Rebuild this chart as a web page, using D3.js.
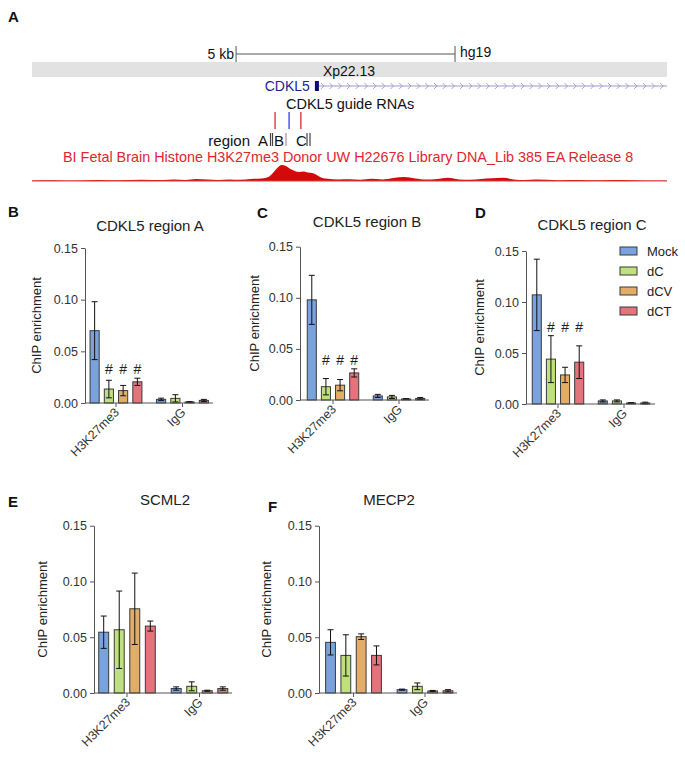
<!DOCTYPE html>
<html>
<head>
<meta charset="utf-8">
<script src="https://cdn.jsdelivr.net/npm/d3@7"></script>
<style>
  body { margin: 0; background: #fff; }
  svg { font-family: "Liberation Sans", Arial, sans-serif; }
</style>
</head>
<body>
<script>
// ---- data ----
var series = ["Mock", "dC", "dCV", "dCT"];
var groups = ["H3K27me3", "IgG"];
var colors = ["#7aa2dc", "#bfe07e", "#e2ad68", "#e5737c"];
var yTicks = [0, 0.05, 0.10, 0.15];

// CDKL5 region A
var regionAMean = [[0.070, 0.0135, 0.012, 0.0205], [0.0035, 0.0045, 0.001, 0.0025]];
var regionAErr  = [[0.028, 0.0085, 0.005, 0.0035], [0.0012, 0.0035, 0.0003, 0.001]];
// CDKL5 region B
var regionBMean = [[0.098, 0.013, 0.0145, 0.0265], [0.004, 0.003, 0.001, 0.0015]];
var regionBErr  = [[0.024, 0.008, 0.0055, 0.004], [0.0015, 0.0015, 0.0003, 0.001]];
// CDKL5 region C
var regionCMean = [[0.107, 0.044, 0.0285, 0.041], [0.003, 0.003, 0.001, 0.001]];
var regionCErr  = [[0.035, 0.023, 0.0075, 0.016], [0.001, 0.001, 0.0003, 0.0008]];
// SCML2
var scml2Mean = [[0.0545, 0.0567, 0.0755, 0.060], [0.004, 0.006, 0.002, 0.004]];
var scml2Err  = [[0.0145, 0.0347, 0.032, 0.0045], [0.0015, 0.004, 0.0005, 0.0015]];
// MECP2
var mecp2Mean = [[0.0454, 0.0337, 0.0505, 0.0337], [0.003, 0.006, 0.0018, 0.002]];
var mecp2Err  = [[0.0113, 0.0185, 0.0025, 0.0085], [0.0005, 0.003, 0.0005, 0.001]];

// genome browser track (kb positions across the window, H3K27me3 signal)
var signalKb = [0, 0.5, 1, 1.5, 2, 2.5, 3, 3.25, 3.5, 3.75, 4, 4.25, 4.5, 4.75, 5, 5.25, 5.4, 5.5, 5.6, 5.7, 5.8, 5.9, 6.0, 6.1, 6.2, 6.3, 6.4, 6.5, 6.6, 6.75, 7, 7.25, 7.5, 7.75, 8, 8.25, 8.5, 8.75, 9, 9.25, 9.5, 9.75, 10, 10.25, 10.5, 10.75, 11, 11.25, 11.5, 12, 12.5, 13, 13.5, 14, 14.5];
var signalVal = [0.6, 0.8, 0.5, 1.0, 0.7, 1.2, 0.9, 1.5, 1.0, 2.0, 1.4, 1.0, 1.6, 1.2, 2.0, 2.6, 4, 8, 13, 16, 15, 12, 10, 9, 9.5, 8.5, 8, 6, 3.5, 2.2, 1.6, 1.8, 1.2, 2.2, 1.5, 3.0, 4.0, 2.5, 1.4, 2.0, 3.2, 1.6, 1.2, 2.0, 2.8, 3.2, 1.6, 1.0, 1.4, 0.8, 1.0, 0.7, 0.9, 0.6, 0.5];
var guideKb = [5.55, 5.87, 6.14];
var guideColor = ["#e0262e", "#3b3be8", "#e0262e"];

var width = 685, height = 763;

var svg = d3.select("body").append("svg")
  .attr("width", width)
  .attr("height", height);

svg.append("rect").attr("width", width).attr("height", height).attr("fill", "#fff");

function panelLetter(t, x, y){
  svg.append("text").attr("x", x).attr("y", y)
    .attr("font-size", "15px").attr("font-weight", "bold")
    .attr("fill", "#111").text(t);
}

// ---- panel A: browser view ----
function drawBrowser(){
  var x = d3.scaleLinear().domain([0, 14.5]).range([32, 667]);
  var g = svg.append("g");

  // scale bar
  var s0 = x(4.66), s1 = x(9.66);
  g.append("line").attr("x1", s0).attr("x2", s1).attr("y1", 54).attr("y2", 54)
    .attr("stroke", "#555").attr("stroke-width", 1);
  [s0, s1].forEach(function(v){
    g.append("line").attr("x1", v).attr("x2", v).attr("y1", 46).attr("y2", 62)
      .attr("stroke", "#555").attr("stroke-width", 1);
  });
  g.append("text").attr("x", s0 - 2).attr("y", 59).attr("text-anchor", "end")
    .attr("font-size", "14px").attr("fill", "#111").text("5 kb");
  g.append("text").attr("x", s1 + 5).attr("y", 57)
    .attr("font-size", "14px").attr("fill", "#111").text("hg19");

  // cytoband
  g.append("rect").attr("x", x(0)).attr("y", 62).attr("width", x(14.5) - x(0)).attr("height", 15)
    .attr("fill", "#e2e2e2");
  g.append("text").attr("x", 349).attr("y", 75.5).attr("text-anchor", "middle")
    .attr("font-size", "14px").attr("fill", "#111").text("Xp22.13");

  // gene
  var gs = x(6.46);
  g.append("text").attr("x", gs - 5).attr("y", 91).attr("text-anchor", "end")
    .attr("font-size", "14px").attr("fill", "#1f1f8f").text("CDKL5");
  g.append("line").attr("x1", gs).attr("x2", x(14.5)).attr("y1", 86).attr("y2", 86)
    .attr("stroke", "#9a9ad0").attr("stroke-width", 1);
  var chev = d3.range(gs + 8, x(14.5) - 2, 8.7);
  g.selectAll("path.chev").data(chev).enter().append("path")
    .attr("class", "chev")
    .attr("d", function(d){ return "M" + (d - 2) + ",83 L" + (d + 1) + ",86 L" + (d - 2) + ",89"; })
    .attr("fill", "none").attr("stroke", "#9a9ad0").attr("stroke-width", 0.9);
  g.append("rect").attr("x", gs).attr("y", 81).attr("width", 4).attr("height", 10)
    .attr("fill", "#0c0c70");

  // guide RNAs
  g.append("text").attr("x", 286).attr("y", 109)
    .attr("font-size", "14.5px").attr("fill", "#111").text("CDKL5 guide RNAs");
  g.selectAll("line.guide").data(guideKb).enter().append("line")
    .attr("class", "guide")
    .attr("x1", function(d){ return x(d); }).attr("x2", function(d){ return x(d); })
    .attr("y1", 112).attr("y2", 129)
    .attr("stroke", function(d, i){ return guideColor[i]; }).attr("stroke-width", 1.3);

  // regions
  g.append("text").attr("x", 250).attr("y", 145.5).attr("text-anchor", "end")
    .attr("font-size", "15px").attr("fill", "#111").text("region");
  var regLab = [{t: "A", x: 258}, {t: "B", x: 274}, {t: "C", x: 296}];
  regLab.forEach(function(r){
    g.append("text").attr("x", r.x).attr("y", 145.5)
      .attr("font-size", "15px").attr("fill", "#111").text(r.t);
  });
  [270.5, 272.5, 286, 307, 310].forEach(function(v, i){
    g.append("rect").attr("x", v - 0.6).attr("y", 133).attr("width", 1.2).attr("height", 13)
      .attr("fill", i == 2 ? "#999" : "#444");
  });

  // track title
  g.append("text").attr("x", 63).attr("y", 161.5)
    .attr("font-size", "14.4px").attr("fill", "#e0262e")
    .text("BI Fetal Brain Histone H3K27me3 Donor UW H22676 Library DNA_Lib 385 EA Release 8");

  // signal
  var pts = signalKb.map(function(k, i){ return [k, signalVal[i]]; });
  var area = d3.area()
    .x(function(d){ return x(d[0]); })
    .y0(181)
    .y1(function(d){ return 181 - d[1]; })
    .curve(d3.curveMonotoneX);
  g.append("path").datum(pts).attr("d", area).attr("fill", "#d40a0a");
  g.append("line").attr("x1", x(0)).attr("x2", x(14.5)).attr("y1", 181).attr("y2", 181)
    .attr("stroke", "#d84040").attr("stroke-width", 1);
}

// ---- bar panels ----
function drawBars(p){
  var g = svg.append("g");
  var y = d3.scaleLinear().domain([0, 0.15]).range([p.y0, p.y1]);
  var gx = d3.scaleBand().domain(groups)
    .range([p.x0 + p.off - p.step / 2, p.x0 + p.off + p.step * 1.5])
    .paddingInner(0.22).paddingOuter(0.11);
  var bx = d3.scaleBand().domain(series).range([0, gx.bandwidth()]).paddingInner(0.36);

  var rows = [];
  groups.forEach(function(gr, gi){
    series.forEach(function(s, si){
      rows.push({group: gr, s: s, si: si, v: p.mean[gi][si], e: p.err[gi][si]});
    });
  });

  // y axis
  var yAxis = d3.axisLeft(y).tickValues(yTicks).tickFormat(d3.format(".2f")).tickSize(4).tickSizeOuter(0);
  var ya = g.append("g").attr("transform", "translate(" + p.x0 + ",0)").call(yAxis);
  ya.select(".domain").attr("stroke", "#555");
  ya.selectAll(".tick line").attr("stroke", "#555");
  ya.selectAll(".tick text").attr("font-size", "12.5px").attr("fill", "#333")
    .attr("font-family", "Liberation Sans, Arial, sans-serif");

  // bars
  g.selectAll("rect.bar").data(rows).enter().append("rect")
    .attr("class", "bar")
    .attr("x", function(d){ return gx(d.group) + bx(d.s); })
    .attr("y", function(d){ return y(d.v); })
    .attr("width", bx.bandwidth())
    .attr("height", function(d){ return y(0) - y(d.v); })
    .attr("fill", function(d){ return colors[d.si]; })
    .attr("stroke", "#3a3a3a").attr("stroke-width", 1);

  // error bars
  var cx = function(d){ return gx(d.group) + bx(d.s) + bx.bandwidth() / 2; };
  var eb = g.selectAll("g.err").data(rows).enter().append("g").attr("class", "err");
  eb.append("line")
    .attr("x1", cx).attr("x2", cx)
    .attr("y1", function(d){ return y(d.v + d.e); })
    .attr("y2", function(d){ return y(Math.max(0, d.v - d.e)); })
    .attr("stroke", "#111").attr("stroke-width", 1);
  [1, -1].forEach(function(sg){
    eb.append("line")
      .attr("x1", function(d){ return cx(d) - 3; }).attr("x2", function(d){ return cx(d) + 3; })
      .attr("y1", function(d){ return y(Math.max(0, d.v + sg * d.e)); })
      .attr("y2", function(d){ return y(Math.max(0, d.v + sg * d.e)); })
      .attr("stroke", "#111").attr("stroke-width", 1);
  });

  // x axis
  g.append("line").attr("x1", p.x0).attr("x2", p.x0 + p.len)
    .attr("y1", y(0)).attr("y2", y(0)).attr("stroke", "#555").attr("stroke-width", 1);
  groups.forEach(function(gr){
    var c = gx(gr) + gx.bandwidth() / 2;
    g.append("line").attr("x1", c).attr("x2", c).attr("y1", y(0)).attr("y2", y(0) + 4)
      .attr("stroke", "#555");
    g.append("text")
      .attr("transform", "translate(" + (c + 4) + "," + (y(0) + 10) + ") rotate(-45)")
      .attr("text-anchor", "end").attr("font-size", "12.5px").attr("fill", "#333")
      .text(gr);
  });

  // significance marks
  if (p.hash) {
    var top = d3.max(rows.filter(function(d){ return d.group == groups[0] && d.si > 0; }),
      function(d){ return d.v + d.e; });
    g.selectAll("text.hash")
      .data(rows.filter(function(d){ return d.group == groups[0] && d.si > 0; }))
      .enter().append("text").attr("class", "hash")
      .attr("x", cx).attr("y", y(top) - 4)
      .attr("text-anchor", "middle").attr("font-size", "14px").attr("fill", "#222")
      .text("#");
  }

  // y label
  g.append("text")
    .attr("transform", "translate(" + p.labX + "," + ((p.y0 + p.y1) / 2) + ") rotate(-90)")
    .attr("text-anchor", "middle").attr("font-size", "13px").attr("fill", "#222")
    .text("ChIP enrichment");

  // title
  g.append("text").attr("x", p.titleX).attr("y", p.titleY).attr("text-anchor", "middle")
    .attr("font-size", "15px").attr("fill", "#222").text(p.title);
}

function drawLegend(x0, y0){
  var lg = svg.append("g").attr("transform", "translate(" + x0 + "," + y0 + ")");
  var it = lg.selectAll("g").data(series).enter().append("g")
    .attr("transform", function(d, i){ return "translate(0," + (i * 20) + ")"; });
  it.append("rect").attr("x", 0).attr("y", -4).attr("width", 17).attr("height", 8)
    .attr("fill", function(d, i){ return colors[i]; })
    .attr("stroke", "#3a3a3a").attr("stroke-width", 1);
  it.append("text").attr("x", 27).attr("y", 5)
    .attr("font-size", "13px").attr("fill", "#222").text(function(d){ return d; });
}

drawBrowser();
panelLetter("A", 8, 22);

panelLetter("B", 8, 217);
drawBars({x0: 85, off: 31, step: 66.5, len: 128, y0: 403, y1: 248, mean: regionAMean, err: regionAErr,
  hash: true, labX: 41, title: "CDKL5 region A", titleX: 150, titleY: 231});

panelLetter("C", 257, 218);
drawBars({x0: 300, off: 33, step: 66, len: 129, y0: 400, y1: 246.7, mean: regionBMean, err: regionBErr,
  hash: true, labX: 259, title: "CDKL5 region B", titleX: 367, titleY: 227});

panelLetter("D", 475, 218);
drawBars({x0: 526, off: 32, step: 66, len: 129, y0: 404, y1: 251, mean: regionCMean, err: regionCErr,
  hash: true, labX: 484, title: "CDKL5 region C", titleX: 592, titleY: 230});
drawLegend(620, 251);

panelLetter("E", 8, 507);
drawBars({x0: 94, off: 33, step: 72.5, len: 138, y0: 693, y1: 525.7, mean: scml2Mean, err: scml2Err,
  hash: false, labX: 47, title: "SCML2", titleX: 165, titleY: 505});

panelLetter("F", 268, 512);
drawBars({x0: 319, off: 34.5, step: 71.5, len: 138, y0: 693, y1: 525.7, mean: mecp2Mean, err: mecp2Err,
  hash: false, labX: 271, title: "MECP2", titleX: 389, titleY: 505});
</script>
</body>
</html>
